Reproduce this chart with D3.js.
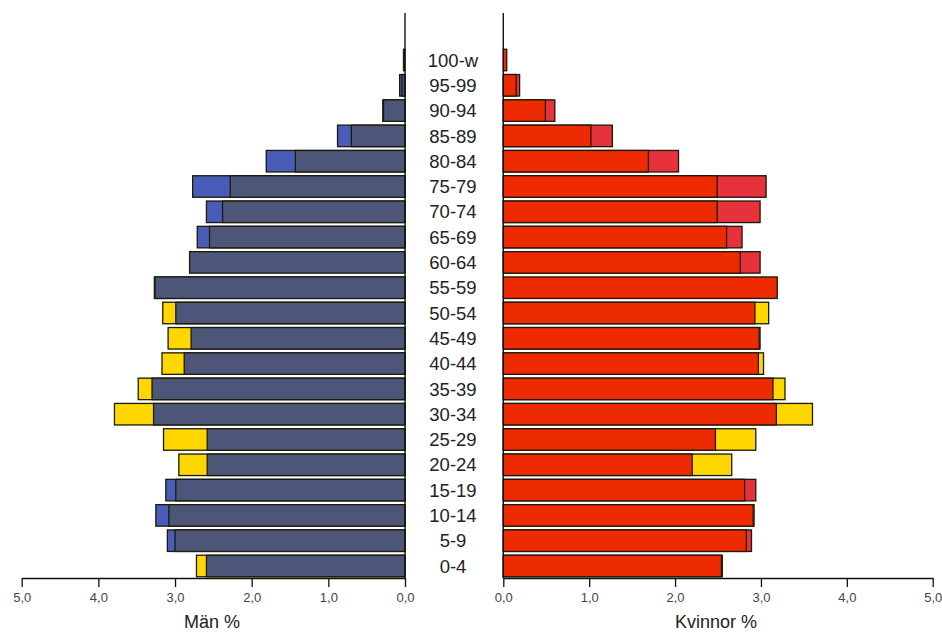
<!DOCTYPE html>
<html><head><meta charset="utf-8">
<script src="https://cdn.jsdelivr.net/npm/d3@7"></script>
<style>html,body{margin:0;padding:0;background:#fff;}svg{display:block;}</style>
</head><body>
<svg id="chart" width="942" height="632"></svg>
<script>
const ages = ["100-w","95-99","90-94","85-89","80-84","75-79","70-74","65-69","60-64","55-59","50-54","45-49","40-44","35-39","30-34","25-29","20-24","15-19","10-14","5-9","0-4"];
const menMain   = [0.02,0.04,0.28,0.70,1.43,2.28,2.38,2.55,2.81,3.26,2.99,2.79,2.88,3.30,3.28,2.58,2.58,2.99,3.08,3.00,2.59];
const menYellow = [null,null,null,null,null,null,null,null,null,3.27,3.16,3.09,3.17,3.48,3.79,3.15,2.95,null,null,null,2.72];
const menLight  = [null,0.07,0.29,0.88,1.81,2.77,2.59,2.71,null,null,null,null,null,null,null,null,null,3.12,3.25,3.10,null];
const womenMain   = [0.04,0.15,0.49,1.02,1.69,2.49,2.49,2.60,2.76,3.19,2.93,2.98,2.97,3.14,3.18,2.47,2.20,2.81,2.91,2.83,2.54];
const womenYellow = [null,null,null,null,null,null,null,null,null,null,3.09,2.99,3.03,3.28,3.60,2.94,2.66,null,null,null,2.55];
const womenLight  = [null,0.19,0.60,1.27,2.04,3.06,2.99,2.78,2.99,null,null,null,null,null,null,null,null,2.94,2.92,2.89,null];
const ticks = [0,1,2,3,4,5];

const svg = d3.select("#chart");
const y = d3.scaleBand().domain(ages).range([49.25,576.75]).paddingInner(0.15).paddingOuter(0);
const xL = d3.scaleLinear().domain([0,5]).range([405,21.7]);
const xR = d3.scaleLinear().domain([0,5]).range([503.3,932.7]);
const fmt = d => d.toFixed(1).replace(".", ",");

const col = {menMain:"#4d5779", menLight:"#4a5db8", womenMain:"#ee2a00", womenLight:"#e8313b", yellow:"#ffd700"};

function drawBars(g, vals, x, left, fill){
  const data = ages.map((a,i)=>({a, v: vals[i]})).filter(d=>d.v!=null);
  g.selectAll(null).data(data).enter().append("rect")
    .attr("x", d => left ? x(d.v) : x(0))
    .attr("width", d => Math.abs(x(d.v)-x(0)))
    .attr("y", d => y(d.a))
    .attr("height", y.bandwidth())
    .attr("fill", fill)
    .attr("stroke", "#1c1a08")
    .attr("stroke-width", 1.3);
}

const defs = svg.append("defs");
const f = defs.append("filter").attr("id","sh").attr("x","-5%").attr("y","-20%").attr("width","110%").attr("height","140%");
f.append("feGaussianBlur").attr("in","SourceGraphic").attr("stdDeviation",0.6);

const gb = svg.append("g").attr("filter","url(#sh)");
drawBars(gb, menYellow, xL, true, col.yellow);
drawBars(gb, menLight, xL, true, col.menLight);
drawBars(gb, menMain, xL, true, col.menMain);
drawBars(gb, womenYellow, xR, false, col.yellow);
drawBars(gb, womenLight, xR, false, col.womenLight);
drawBars(gb, womenMain, xR, false, col.womenMain);

// axes
const axisY = 578;
const ax1 = svg.append("g").attr("transform",`translate(0,${axisY})`)
  .call(d3.axisBottom(xL).tickValues(ticks).tickFormat(fmt).tickSize(9).tickSizeOuter(0));
const ax2 = svg.append("g").attr("transform",`translate(0,${axisY})`)
  .call(d3.axisBottom(xR).tickValues(ticks).tickFormat(fmt).tickSize(9).tickSizeOuter(0));
[ax1,ax2].forEach(a=>{
  a.select(".domain").attr("stroke","#111").attr("stroke-width",1.3);
  a.selectAll(".tick line").attr("stroke","#111").attr("stroke-width",1.3);
  a.selectAll(".tick text").attr("font-family","Liberation Sans, Arial, sans-serif").attr("font-size",13).attr("fill","#444").attr("dy","0.95em");
});

// vertical axis lines
svg.append("line").attr("x1",xL(0)).attr("x2",xL(0)).attr("y1",13).attr("y2",axisY).attr("stroke","#111").attr("stroke-width",1.4);
svg.append("line").attr("x1",xR(0)).attr("x2",xR(0)).attr("y1",13).attr("y2",axisY).attr("stroke","#111").attr("stroke-width",1.4);

// age labels
svg.append("g").selectAll("text").data(ages).enter().append("text")
  .attr("x",453).attr("y",d=>y(d)+y.bandwidth()/2).attr("dy","0.36em")
  .attr("text-anchor","middle").attr("font-family","Liberation Sans, Arial, sans-serif")
  .attr("font-size",18.5).attr("fill","#222").text(d=>d);

// axis titles
svg.append("text").attr("x",212).attr("y",628).attr("text-anchor","middle")
  .attr("font-family","Liberation Sans, Arial, sans-serif").attr("font-size",18).attr("fill","#222").text("Män %");
svg.append("text").attr("x",716).attr("y",628).attr("text-anchor","middle")
  .attr("font-family","Liberation Sans, Arial, sans-serif").attr("font-size",18).attr("fill","#222").text("Kvinnor %");
</script>
</body></html>
